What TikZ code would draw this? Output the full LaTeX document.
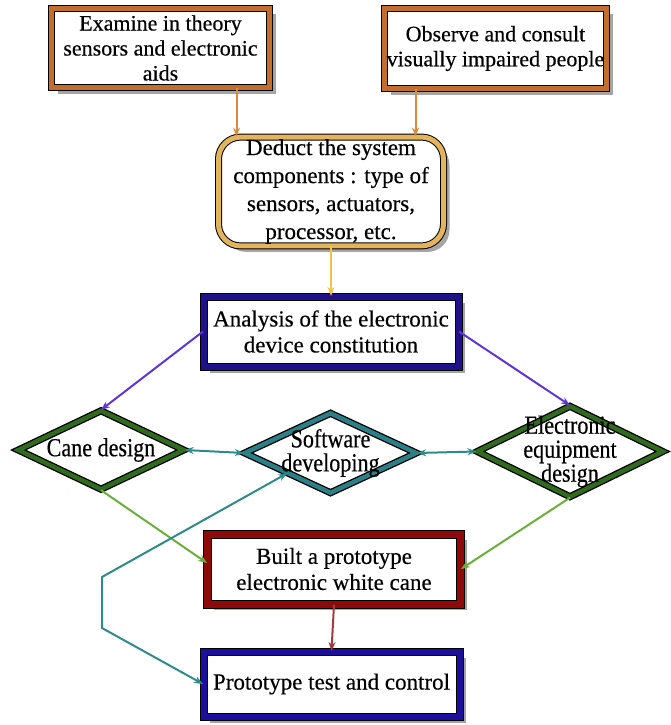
\documentclass[tikz,border=0pt]{standalone}
\usepackage{fontspec}
\setmainfont{Liberation Serif}
\newfontfamily\darkserif[FakeBold=0.4]{Liberation Serif}
\newfontfamily\narrowserif[FakeStretch=0.85, FakeBold=0.4]{Liberation Serif}
\usetikzlibrary{arrows.meta, positioning, shapes.geometric, shadows}
\definecolor{frameorange}{HTML}{C46E2E}
\definecolor{arroworange}{HTML}{D98A3A}
\definecolor{framegold}{HTML}{E2B55C}
\definecolor{arrowgold}{HTML}{F2C245}
\definecolor{framenavy}{HTML}{20108A}
\definecolor{frameblue}{HTML}{1E0E9E}
\definecolor{arrowpurple}{HTML}{5F35D5}
\definecolor{framegreen}{HTML}{2F6A1F}
\definecolor{frameteal}{HTML}{2C7F86}
\definecolor{arrowteal}{HTML}{2E8B8B}
\definecolor{arrowgreen}{HTML}{6BAF3A}
\definecolor{framered}{HTML}{8E0A0A}
\definecolor{arrowred}{HTML}{A53A3A}

\begin{document}
\begin{tikzpicture}[
    x=1pt, y=-1pt,
    framebox/.style={draw=black, line width=1pt, double=#1, double distance=5pt,
                     fill=white, align=center, inner sep=2pt,
                     drop shadow={shadow xshift=6pt, shadow yshift=-6pt, fill=black!70},
                     font=\darkserif\fontsize{22}{25}\selectfont},
    diabox/.style={diamond, draw=black, line width=1.3pt, double=#1, double distance=4.5pt,
                   fill=white, inner sep=0pt},
    diatext/.style={align=center, inner sep=0pt, font=\narrowserif\fontsize{26}{24}\selectfont},
    conn/.style={line width=2pt, -{Stealth[length=9pt, width=7pt, inset=3pt]}},
    bothconn/.style={conn, {Stealth[length=9pt, width=7pt, inset=3pt]}-{Stealth[length=9pt, width=7pt, inset=3pt]}},
]
    \useasboundingbox (0,0) rectangle (671,725);

    % top row
    \node[framebox=frameorange, minimum width=218pt, minimum height=79pt] (examine) at (160.5,48)
        {Examine in theory\\sensors and electronic\\aids};
    \node[framebox=frameorange, minimum width=222pt, minimum height=80pt] (observe) at (495.5,48.5)
        {Observe and consult\\visually impaired people};

    \node[framebox=framegold, rounded corners=22pt, minimum width=225pt, minimum height=96pt,
          font=\darkserif\fontsize{23}{28}\selectfont] (deduct) at (331,191.5)
        {Deduct the system\\components : type of\\sensors, actuators,\\processor, etc.};

    \node[framebox=framenavy, double distance=6pt, minimum width=255pt, minimum height=70pt,
          font=\darkserif\fontsize{23}{26}\selectfont] (analysis) at (331,331.5)
        {Analysis of the electronic\\device constitution};

    % design diamonds
    \node[diabox=framegreen, minimum width=166pt, minimum height=79pt,
          label={[diatext]center:Cane design}] (cane) at (101,450) {};
    \node[diabox=frameteal, minimum width=172pt, minimum height=80pt,
          label={[diatext]center:Software\\developing}] (software) at (330.5,453) {};
    \node[diabox=framegreen, minimum width=186pt, minimum height=91pt,
          label={[diatext]center:Electronic\\equipment\\design}] (equipment) at (570,451.5) {};

    % prototype
    \node[framebox=framered, double distance=7pt, minimum width=253pt, minimum height=70pt,
          font=\darkserif\fontsize{23}{26}\selectfont] (built) at (334,569)
        {Built a prototype\\electronic white cane};
    \node[framebox=frameblue, double distance=6pt, minimum width=256pt, minimum height=65pt,
          font=\darkserif\fontsize{23}{26}\selectfont] (test) at (331.5,684)
        {Prototype test and control};

    \coordinate (loopA) at (102,577);
    \coordinate (loopB) at (102,628);

    % connectors
    \draw[conn, arroworange] ([xshift=76pt]examine.south) -- ([xshift=76pt]examine.south |- deduct.north);
    \draw[conn, arroworange] ([xshift=-80pt]observe.south) -- ([xshift=-80pt]observe.south |- deduct.north);
    \draw[conn, arrowgold] (deduct.south) -- (analysis.north);
    \draw[conn, arrowpurple] (analysis.west) -- (cane.north);
    \draw[conn, arrowpurple] (analysis.east) -- (equipment.north);
    \draw[bothconn, arrowteal] (cane.east) -- (software.west);
    \draw[bothconn, arrowteal] (software.east) -- (equipment.west);
    \draw[conn, arrowgreen] (cane.south) -- ([yshift=6pt]built.west);
    \draw[conn, arrowgreen] (equipment.south) -- (built.east);
    \draw[conn, arrowred] (built.south) -- (test.north);
    \draw[bothconn, arrowteal] (software.south west) -- (loopA) -- (loopB) -- (test.west);
\end{tikzpicture}
\end{document}
